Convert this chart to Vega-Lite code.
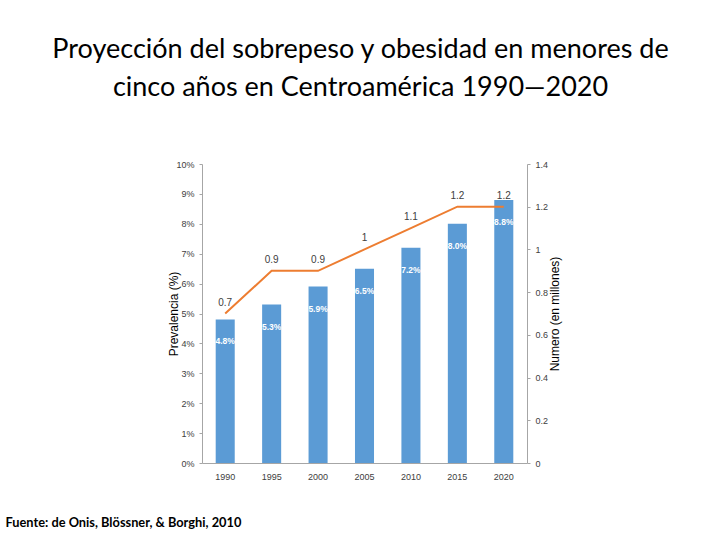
{
  "$schema": "https://vega.github.io/schema/vega-lite/v6.json",
  "width": 325,
  "height": 299,
  "autosize": {"type": "none"},
  "padding": {"left": 202, "top": 164, "right": 193, "bottom": 77},
  "background": "white",
  "title": {
    "text": ["Proyección del sobrepeso y obesidad en menores de", "cinco años en Centroamérica 1990—2020"],
    "font": "Lato",
    "fontSize": 27,
    "fontWeight": "normal",
    "color": "#000000",
    "lineHeight": 38,
    "anchor": "middle",
    "frame": "group",
    "offset": 58,
    "dx": -4
  },
  "config": {
    "view": {"stroke": null},
    "axis": {
      "labelFont": "Liberation Sans",
      "labelFontSize": 9,
      "labelColor": "#404040",
      "titleFont": "Liberation Sans",
      "titleFontSize": 12,
      "titleFontWeight": "normal",
      "titleColor": "#000000",
      "domainColor": "#A6A6A6",
      "tickColor": "#A6A6A6",
      "labelOverlap": false,
      "grid": false
    }
  },
  "data": {
    "values": [
      {"anio": "1990", "prevalencia": 4.8, "millones": 0.7},
      {"anio": "1995", "prevalencia": 5.3, "millones": 0.9},
      {"anio": "2000", "prevalencia": 5.9, "millones": 0.9},
      {"anio": "2005", "prevalencia": 6.5, "millones": 1.0},
      {"anio": "2010", "prevalencia": 7.2, "millones": 1.1},
      {"anio": "2015", "prevalencia": 8.0, "millones": 1.2},
      {"anio": "2020", "prevalencia": 8.8, "millones": 1.2}
    ]
  },
  "encoding": {
    "x": {
      "field": "anio",
      "type": "ordinal",
      "sort": null,
      "scale": {"paddingInner": 0.59, "paddingOuter": 0.295},
      "axis": {
        "title": "Fuente: de Onis, Blössner, & Borghi, 2010",
        "titleFont": "Lato",
        "titleFontSize": 12.8,
        "titleFontWeight": "bold",
        "titleAnchor": "start",
        "titleAlign": "left",
        "titleBaseline": "alphabetic",
        "titleX": -197,
        "titleY": 63,
        "labelAngle": 0,
        "labelPadding": 9,
        "ticks": false,
        "domainColor": "#A6A6A6"
      }
    }
  },
  "layer": [
    {
      "encoding": {
        "y": {
          "field": "prevalencia",
          "type": "quantitative",
          "scale": {"domain": [0, 10]},
          "axis": {
            "title": "Prevalencia (%)",
            "orient": "left",
            "values": [0, 1, 2, 3, 4, 5, 6, 7, 8, 9, 10],
            "labelExpr": "datum.value + '%'",
            "labelOverlap": false,
            "tickSize": 3,
            "labelPadding": 5,
            "titlePadding": -5
          }
        }
      },
      "layer": [
        {
          "mark": {"type": "bar", "color": "#5B9BD5"}
        },
        {
          "transform": [
            {"calculate": "format(datum.prevalencia, '.1f') + '%'", "as": "etiqueta"}
          ],
          "mark": {"type": "text", "color": "white", "fontWeight": "bold", "font": "Liberation Sans", "fontSize": 8.5, "baseline": "top", "dy": 18},
          "encoding": {
            "text": {"field": "etiqueta", "type": "nominal"}
          }
        }
      ]
    },
    {
      "encoding": {
        "y": {
          "field": "millones",
          "type": "quantitative",
          "scale": {"domain": [0, 1.4]},
          "axis": {
            "title": "Numero (en millones)",
            "orient": "right",
            "titleAngle": 270,
            "values": [0, 0.2, 0.4, 0.6, 0.8, 1, 1.2, 1.4],
            "format": "~g",
            "labelOverlap": false,
            "tickSize": 3,
            "labelPadding": 5,
            "titlePadding": 14
          }
        }
      },
      "layer": [
        {
          "mark": {"type": "line", "color": "#ED7D31", "strokeWidth": 2}
        },
        {
          "mark": {"type": "text", "color": "#404040", "font": "Liberation Sans", "fontSize": 10, "baseline": "bottom", "dy": -6},
          "encoding": {
            "text": {"field": "millones", "type": "quantitative", "format": "~g"}
          }
        }
      ]
    }
  ],
  "resolve": {"scale": {"y": "independent"}}
}
